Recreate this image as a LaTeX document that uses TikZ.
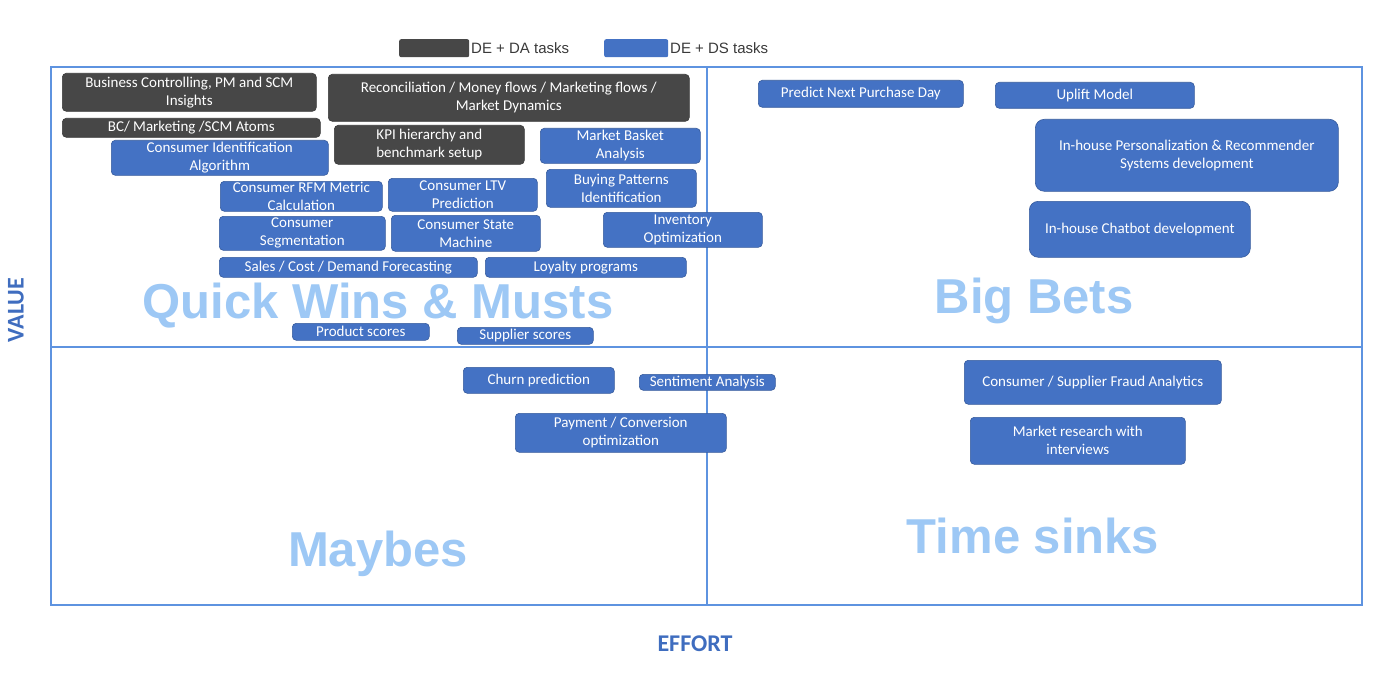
\documentclass[tikz,border=0pt]{standalone}
\usepackage{fontspec}
\setmainfont{Carlito}
\newfontfamily\arialf{Liberation Sans}
\definecolor{boxblue}{HTML}{4472C4}
\definecolor{boxdark}{HTML}{474747}
\definecolor{gridblue}{HTML}{5E93E0}
\definecolor{quadblue}{HTML}{9DC8F5}
\definecolor{axisblue}{HTML}{3F6DBF}
\definecolor{legtext}{HTML}{3A3A3A}
\tikzset{
  bluebox/.style={fill=boxblue, draw=boxblue!80!black, line width=0.6pt, rounded corners=4pt, text=white, inner sep=0pt, font=\fontsize{15}{18}\selectfont},
  darkbox/.style={fill=boxdark, draw=boxdark!80!black, line width=0.6pt, rounded corners=4pt, text=white, inner sep=0pt, font=\fontsize{15}{18}\selectfont},
  bigbox/.style={rounded corners=9pt},
  quad/.style={text=quadblue, font=\arialf\bfseries\fontsize{49}{49}\selectfont, inner sep=0pt, anchor=base},
  axislabel/.style={text=axisblue, font=\bfseries\fontsize{24}{24}\selectfont, inner sep=0pt},
  gridline/.style={draw=gridblue, line width=1.6pt},
  legbox/.style={rounded corners=2pt, inner sep=0pt, anchor=north west},
  legtxt/.style={text=legtext, font=\arialf\fontsize{15}{15}\selectfont, inner sep=0pt, anchor=west}
}
\newcommand\qbox[7]{\node[#1, align=center, minimum width={#5-#3}, minimum height={#6-#4}, anchor=north west] (#2) at (#3,#4) {#7};}
\begin{document}
\begin{tikzpicture}[x=1pt,y=-1pt]
\useasboundingbox (0,0) rectangle (1400,674);
\fill[white] (0,0) rectangle (1400,674);
% grid
\coordinate (tl) at (51,67);
\coordinate (br) at (1362,605);
\coordinate (mt) at (707,67);
\coordinate (mb) at (707,605);
\coordinate (ml) at (51,347);
\coordinate (mr) at (1362,347);
\draw[gridline] (tl) rectangle (br);
\draw[gridline] (mt) -- (mb);
\draw[gridline] (ml) -- (mr);
% legend
\node[legbox, fill=boxdark, minimum width=70, minimum height=18] (lgd) at (399,39) {};
\node[legtxt] (lgdt) at (471,48) {DE + DA tasks};
\node[legbox, fill=boxblue, minimum width=64, minimum height=18] (lgb) at (604,39) {};
\node[legtxt] (lgbt) at (670,48) {DE + DS tasks};
% quadrant labels
\node[quad] (qw) at (378,318) {Quick Wins \& Musts};
\node[quad] (bb) at (1034,313) {Big Bets};
\node[quad] (mb2) at (378,566) {Maybes};
\node[quad] (ts) at (1033,553) {Time sinks};
% axis labels
\node[axislabel, rotate=90] (val) at (16,310) {VALUE};
\node[axislabel] (eff) at (695,644) {EFFORT};
% dark boxes
\qbox{darkbox}{bc}{62}{73}{316}{111}{Business Controlling, PM and SCM\\Insights}
\qbox{darkbox}{rec}{328}{74}{689}{121}{Reconciliation / Money flows / Marketing flows /\\Market Dynamics}
\qbox{darkbox}{atoms}{62}{118}{320}{137}{BC/ Marketing /SCM Atoms}
\qbox{darkbox}{kpi}{334}{125}{524}{164}{KPI hierarchy and\\benchmark setup}
% blue boxes, quick wins
\qbox{bluebox}{cid}{111}{140}{328}{175}{Consumer Identification\\Algorithm}
\qbox{bluebox}{mba}{540}{128}{700}{163}{Market Basket\\Analysis}
\qbox{bluebox}{bpi}{546}{169}{696}{207}{Buying Patterns\\Identification}
\qbox{bluebox}{rfm}{220}{181}{382}{211}{Consumer RFM Metric\\Calculation}
\qbox{bluebox}{ltv}{388}{178}{537}{211}{Consumer LTV\\Prediction}
\qbox{bluebox}{seg}{219}{216}{385}{250}{Consumer\\Segmentation}
\qbox{bluebox}{csm}{391}{215}{540}{251}{Consumer State\\Machine}
\qbox{bluebox}{inv}{603}{212}{762}{247}{Inventory\\Optimization}
\qbox{bluebox}{fc}{219}{257}{477}{277}{Sales / Cost / Demand Forecasting}
\qbox{bluebox}{loy}{485}{257}{686}{277}{Loyalty programs}
\qbox{bluebox}{ps}{292}{323}{429}{340}{Product scores}
\qbox{bluebox}{ss}{457}{327}{593}{344}{Supplier scores}
% big bets
\qbox{bluebox}{pnp}{758}{80}{963}{107}{Predict Next Purchase Day}
\qbox{bluebox}{upl}{995}{82}{1194}{108}{Uplift Model}
\qbox{bluebox,bigbox}{rec2}{1035}{119}{1338}{191}{In-house Personalization \& Recommender\\Systems development}
\qbox{bluebox,bigbox}{chat}{1029}{201}{1250}{257}{In-house Chatbot development}
% maybes
\qbox{bluebox}{churn}{463}{367}{614}{393}{Churn prediction}
\qbox{bluebox}{sent}{639}{374}{775}{390}{Sentiment Analysis}
\qbox{bluebox}{pay}{515}{413}{726}{452}{Payment / Conversion\\optimization}
% time sinks
\qbox{bluebox}{fraud}{964}{360}{1221}{404}{Consumer / Supplier Fraud Analytics}
\qbox{bluebox}{mr}{970}{417}{1185}{464}{Market research with\\interviews}
\end{tikzpicture}
\end{document}
